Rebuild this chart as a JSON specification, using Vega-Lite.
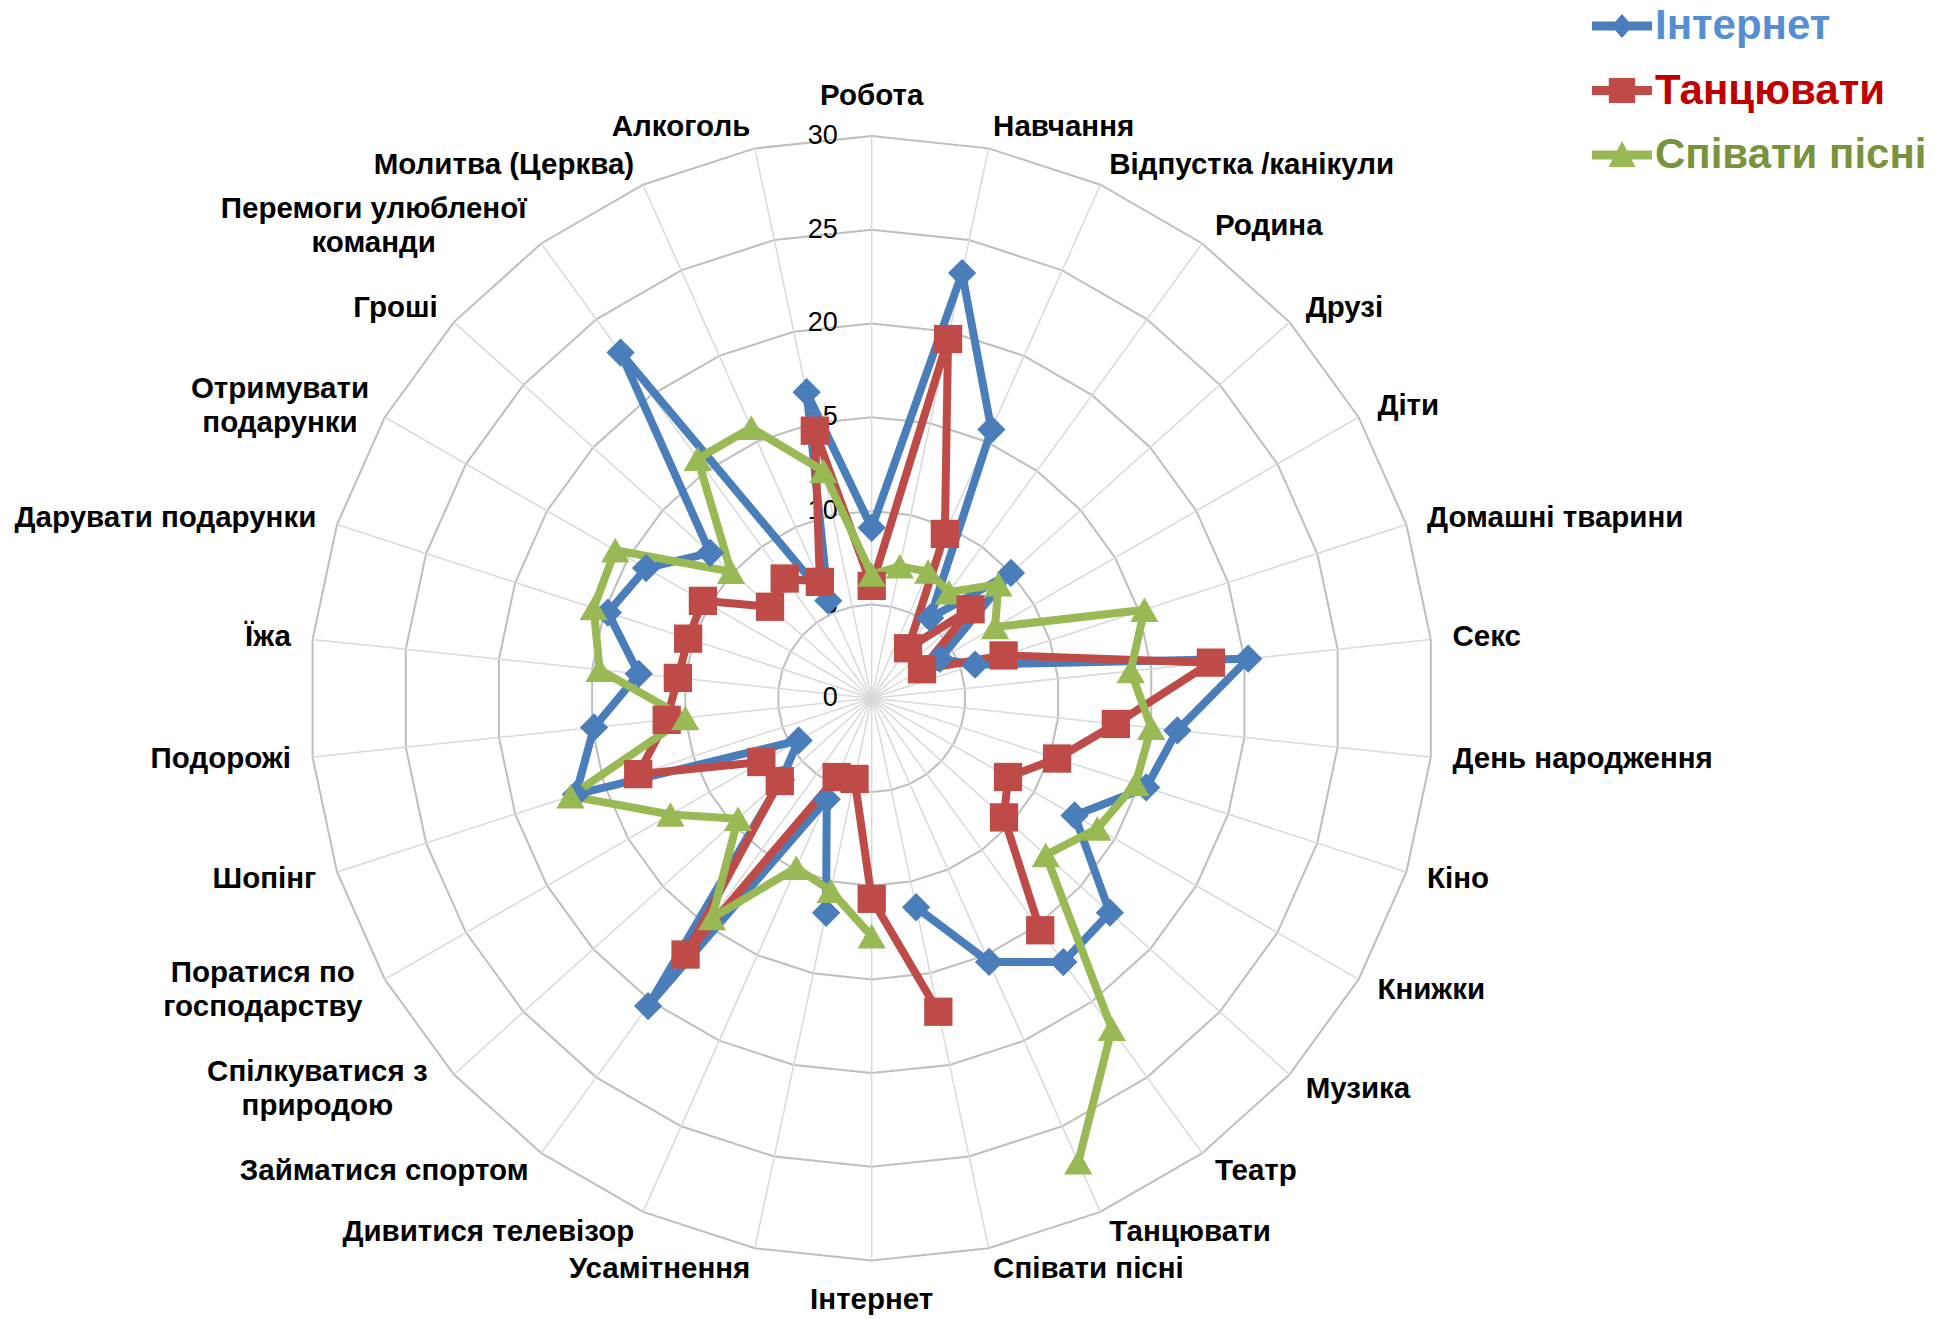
{
  "$schema": "https://vega.github.io/schema/vega-lite/v6.json",
  "width": 1950,
  "height": 1319,
  "autosize": "none",
  "padding": 0,
  "background": "white",
  "config": {"view": {"stroke": null}, "font": "Liberation Sans"},
  "datasets": {
    "d": [
      {"cat": "Робота", "Інтернет": 9.1, "Танцювати": 6.0, "Співати пісні": 6.6},
      {"cat": "Навчання", "Інтернет": 23.2, "Танцювати": 19.6, "Співати пісні": 7.2},
      {"cat": "Відпустка /канікули", "Інтернет": 15.7, "Танцювати": 9.6, "Співати пісні": 7.4},
      {"cat": "Родина", "Інтернет": 5.3, "Танцювати": 3.3, "Співати пісні": 7.0},
      {"cat": "Друзі", "Інтернет": 10.0, "Танцювати": 7.1, "Співати пісні": 9.1},
      {"cat": "Діти", "Інтернет": 4.2, "Танцювати": 3.1, "Співати пісні": 7.6},
      {"cat": "Домашні тварини", "Інтернет": 5.8, "Танцювати": 7.4, "Співати пісні": 15.3},
      {"cat": "Секс", "Інтернет": 20.2, "Танцювати": 18.2, "Співати пісні": 13.9},
      {"cat": "День народження", "Інтернет": 16.4, "Танцювати": 13.1, "Співати пісні": 15.0},
      {"cat": "Кіно", "Інтернет": 15.4, "Танцювати": 10.4, "Співати пісні": 14.8},
      {"cat": "Книжки", "Інтернет": 12.5, "Танцювати": 8.4, "Співати пісні": 13.9},
      {"cat": "Музика", "Інтернет": 17.1, "Танцювати": 9.5, "Співати пісні": 12.5},
      {"cat": "Театр", "Інтернет": 17.4, "Танцювати": 15.3, "Співати пісні": 21.8},
      {"cat": "Танцювати", "Інтернет": 15.4, "Танцювати": null, "Співати пісні": 27.1},
      {"cat": "Співати пісні", "Інтернет": 11.4, "Танцювати": 17.1, "Співати пісні": null},
      {"cat": "Інтернет", "Інтернет": null, "Танцювати": 10.7, "Співати пісні": 12.7},
      {"cat": "Усамітнення", "Інтернет": 11.7, "Танцювати": 4.4, "Співати пісні": 10.5},
      {"cat": "Дивитися телевізор", "Інтернет": 5.9, "Танцювати": 4.6, "Співати пісні": 9.9},
      {"cat": "Займатися спортом", "Інтернет": 20.3, "Танцювати": 16.9, "Співати пісні": 14.5},
      {"cat": "Спілкуватися з\nприродою", "Інтернет": 6.5, "Танцювати": 6.6, "Співати пісні": 9.6},
      {"cat": "Поратися по\nгосподарству", "Інтернет": 4.5, "Танцювати": 6.8, "Співати пісні": 12.4},
      {"cat": "Шопінг", "Інтернет": 16.6, "Танцювати": 13.1, "Співати пісні": 16.9},
      {"cat": "Подорожі", "Інтернет": 14.9, "Танцювати": 11.0, "Співати пісні": 10.0},
      {"cat": "Їжа", "Інтернет": 12.5, "Танцювати": 10.4, "Співати пісні": 14.6},
      {"cat": "Дарувати подарунки", "Інтернет": 14.8, "Танцювати": 10.3, "Співати пісні": 15.6},
      {"cat": "Отримувати\nподарунки", "Інтернет": 13.9, "Танцювати": 10.4, "Співати пісні": 15.8},
      {"cat": "Гроші", "Інтернет": 11.6, "Танцювати": 7.3, "Співати пісні": 10.1},
      {"cat": "Перемоги улюбленої\nкоманди", "Інтернет": 22.8, "Танцювати": 7.9, "Співати пісні": 15.8},
      {"cat": "Молитва (Церква)", "Інтернет": 5.7, "Танцювати": 6.8, "Співати пісні": 15.8},
      {"cat": "Алкоголь", "Інтернет": 16.7, "Танцювати": 14.6, "Співати пісні": 12.4}
    ]
  },
  "layer": [
    {
      "data": {"name": "d"},
      "transform": [
        {"window": [{"op": "row_number", "as": "n"}]},
        {"calculate": "datum.n - 1", "as": "i"},
        {"calculate": "datum.i * PI / 15", "as": "a"},
        {"calculate": "[5, 10, 15, 20, 25, 30]", "as": "rr"},
        {"flatten": ["rr"]},
        {"calculate": "datum.rr * sin(datum.a)", "as": "px"},
        {"calculate": "datum.rr * cos(datum.a)", "as": "py"}
      ],
      "mark": {"type": "line", "interpolate": "linear-closed", "stroke": "#BEBEBE", "strokeWidth": 2},
      "encoding": {
        "x": {"field": "px", "type": "quantitative", "scale": {"domain": [-46.515, 57.54], "nice": false, "zero": false}, "axis": null},
        "y": {"field": "py", "type": "quantitative", "scale": {"domain": [-33.122, 37.262], "nice": false, "zero": false}, "axis": null},
        "detail": {"field": "rr", "type": "quantitative"},
        "order": {"field": "i", "type": "quantitative"}
      }
    },
    {
      "data": {"name": "d"},
      "transform": [
        {"window": [{"op": "row_number", "as": "n"}]},
        {"calculate": "datum.n - 1", "as": "i"},
        {"calculate": "datum.i * PI / 15", "as": "a"},
        {"calculate": "30 * sin(datum.a)", "as": "px"},
        {"calculate": "30 * cos(datum.a)", "as": "py"}
      ],
      "mark": {"type": "rule", "stroke": "#D9D9D9", "strokeWidth": 1.5},
      "encoding": {
        "x": {"field": "px", "type": "quantitative"},
        "y": {"field": "py", "type": "quantitative"},
        "x2": {"datum": 0},
        "y2": {"datum": 0}
      }
    },
    {
      "data": {"name": "d"},
      "transform": [
        {"window": [{"op": "row_number", "as": "n"}]},
        {"filter": "datum.n == 1"},
        {"calculate": "[0, 5, 10, 15, 20, 25, 30]", "as": "rr"},
        {"flatten": ["rr"]}
      ],
      "mark": {"type": "text", "align": "right", "baseline": "middle", "dx": -34, "fontSize": 27, "color": "#000000"},
      "encoding": {
        "x": {"datum": 0},
        "y": {"field": "rr", "type": "quantitative"},
        "text": {"field": "rr", "type": "quantitative"}
      }
    },
    {
      "data": {"name": "d"},
      "transform": [
        {"window": [{"op": "row_number", "as": "n"}]},
        {"calculate": "datum.n - 1", "as": "i"},
        {"calculate": "datum.i * PI / 15", "as": "a"},
        {"calculate": "sin(datum.a)", "as": "si"},
        {"calculate": "cos(datum.a)", "as": "co"},
        {"calculate": "indexof(datum.cat, '\\n')", "as": "br"},
        {"calculate": "datum.br >= 0 ? max(datum.br, length(datum.cat) - datum.br - 1) : length(datum.cat)", "as": "ml"},
        {"calculate": "abs(datum.si) < 0.01 ? 'c' : (datum.br >= 0 ? 'm' : (datum.si > 0 ? 'l' : 'r'))", "as": "side"},
        {"calculate": "datum.side == 'c' ? 32.12 : 31.16", "as": "lr"},
        {"calculate": "datum.lr * datum.si + (datum.side == 'm' ? (datum.si > 0 ? 1 : -1) * datum.ml * 8.6 / 18.74 : 0)", "as": "px"},
        {"calculate": "datum.lr * datum.co + (datum.side == 'm' ? 17 / 18.74 : 0)", "as": "py"}
      ],
      "encoding": {
        "x": {"field": "px", "type": "quantitative"},
        "y": {"field": "py", "type": "quantitative"},
        "text": {"field": "cat", "type": "nominal"}
      },
      "layer": [
        {
          "transform": [{"filter": "datum.side == 'l'"}],
          "mark": {"type": "text", "align": "left", "baseline": "middle", "fontSize": 29.5, "fontWeight": "bold", "color": "#000000", "lineBreak": "\n", "lineHeight": 34}
        },
        {
          "transform": [{"filter": "datum.side == 'r'"}],
          "mark": {"type": "text", "align": "right", "baseline": "middle", "fontSize": 29.5, "fontWeight": "bold", "color": "#000000", "lineBreak": "\n", "lineHeight": 34}
        },
        {
          "transform": [{"filter": "datum.side == 'c' || datum.side == 'm'"}],
          "mark": {"type": "text", "align": "center", "baseline": "middle", "fontSize": 29.5, "fontWeight": "bold", "color": "#000000", "lineBreak": "\n", "lineHeight": 34}
        }
      ]
    },
    {
      "data": {"name": "d"},
      "transform": [
        {"window": [{"op": "row_number", "as": "n"}]},
        {"calculate": "datum.n - 1", "as": "i"},
        {"calculate": "datum.i * PI / 15", "as": "a"},
        {"fold": ["Інтернет", "Танцювати", "Співати пісні"], "as": ["s", "v"]},
        {"calculate": "datum.cat == datum.s ? datum.i : -1", "as": "selfI"},
        {"joinaggregate": [{"op": "max", "field": "selfI", "as": "own"}], "groupby": ["s"]},
        {"filter": "isValid(datum.v)"},
        {"calculate": "(datum.i - datum.own - 1 + 60) % 30", "as": "ord"},
        {"calculate": "datum.v * sin(datum.a)", "as": "px"},
        {"calculate": "datum.v * cos(datum.a)", "as": "py"}
      ],
      "encoding": {
        "x": {"field": "px", "type": "quantitative"},
        "y": {"field": "py", "type": "quantitative"}
      },
      "layer": [
        {
          "mark": {"type": "line", "strokeWidth": 8, "strokeJoin": "round", "strokeCap": "round"},
          "encoding": {
            "color": {"field": "s", "type": "nominal", "scale": {"domain": ["Інтернет", "Танцювати", "Співати пісні"], "range": ["#4A7EBB", "#BE4B48", "#98B954"]}, "legend": null},
            "order": {"field": "ord", "type": "quantitative"}
          }
        },
        {
          "mark": {"type": "point", "filled": true, "opacity": 1},
          "encoding": {
            "color": {"field": "s", "type": "nominal", "scale": {"domain": ["Інтернет", "Танцювати", "Співати пісні"], "range": ["#4F81BD", "#C0504D", "#9BBB59"]}, "legend": null},
            "shape": {"field": "s", "type": "nominal", "scale": {"domain": ["Інтернет", "Танцювати", "Співати пісні"], "range": ["diamond", "square", "triangle-up"]}, "legend": null},
            "size": {"field": "s", "type": "nominal", "scale": {"domain": ["Інтернет", "Танцювати", "Співати пісні"], "range": [800, 800, 850]}, "legend": null}
          }
        }
      ]
    },
    {
      "data": {"name": "d"},
      "transform": [
        {"fold": ["Інтернет", "Танцювати", "Співати пісні"], "as": ["s", "v"]},
        {"filter": "false"}
      ],
      "mark": {"type": "point", "filled": true, "opacity": 1},
      "encoding": {
        "shape": {
          "field": "s", "type": "nominal",
          "scale": {"domain": ["Інтернет", "Танцювати", "Співати пісні"], "range": [
            "M-1,-0.15L1,-0.15L1,0.15L-1,0.15Z M0,-0.4L0.35,0L0,0.4L-0.35,0Z",
            "M-1,-0.15L1,-0.15L1,0.15L-1,0.15Z M-0.44,-0.42L0.44,-0.42L0.44,0.42L-0.44,0.42Z",
            "M-1,-0.15L1,-0.15L1,0.15L-1,0.15Z M0,-0.47L0.45,0.4L-0.45,0.4Z"
          ]},
          "legend": {"title": null, "orient": "none", "legendX": 1592, "legendY": -4, "symbolSize": 3600, "symbolStrokeWidth": 0, "symbolOpacity": 1, "labelFont": "Liberation Sans", "labelFontSize": 42, "labelFontWeight": "bold", "labelOffset": 3, "labelLimit": 0, "rowPadding": 13.5, "padding": 0, "labelColor": {"expr": "datum.label == 'Інтернет' ? '#558ED5' : datum.label == 'Танцювати' ? '#C00000' : '#77933C'"}}
        },
        "color": {
          "field": "s", "type": "nominal",
          "scale": {"domain": ["Інтернет", "Танцювати", "Співати пісні"], "range": ["#4A7EBB", "#BE4B48", "#98B954"]},
          "legend": {"title": null, "orient": "none", "legendX": 1592, "legendY": -4, "symbolSize": 3600, "symbolStrokeWidth": 0, "symbolOpacity": 1, "labelFont": "Liberation Sans", "labelFontSize": 42, "labelFontWeight": "bold", "labelOffset": 3, "labelLimit": 0, "rowPadding": 13.5, "padding": 0, "labelColor": {"expr": "datum.label == 'Інтернет' ? '#558ED5' : datum.label == 'Танцювати' ? '#C00000' : '#77933C'"}}
        }
      }
    }
  ],
  "resolve": {"scale": {"color": "independent", "shape": "independent", "size": "independent"}}
}
